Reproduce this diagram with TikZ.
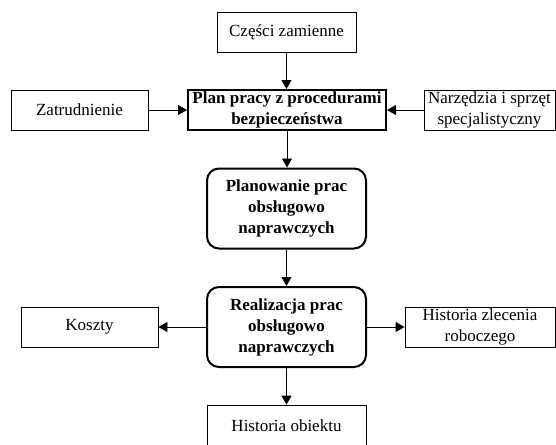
\documentclass[tikz,border=0pt]{standalone}
\usepackage{fontspec}
\setmainfont{Liberation Serif}
\usetikzlibrary{arrows.meta}
\begin{document}
\begin{tikzpicture}[x=1pt,y=-1pt,
  every node/.style={font=\fontsize{17}{20.5}\selectfont, align=center, inner sep=0pt},
  plainbox/.style={draw, line width=0.9pt, minimum height=40pt},
  boldbox/.style={draw, line width=2pt, minimum height=40pt, font=\fontsize{17}{21.5}\selectfont\bfseries},
  roundbox/.style={draw, line width=2pt, rounded corners=12pt, minimum width=159pt, minimum height=80pt, font=\fontsize{17}{21}\selectfont\bfseries},
  conn/.style={line width=0.9pt, -{Triangle[length=9pt,width=10pt]}}
]
\useasboundingbox (0,0) rectangle (556,444);
\node[plainbox, minimum width=139pt] (czesci) at (286.5,32.5) {Części zamienne};
\node[plainbox, minimum width=137pt] (zatr) at (79.5,110) {Zatrudnienie};
\node[boldbox, minimum width=198pt] (plan) at (287,110) {Plan pracy z procedurami\\bezpieczeństwa};
\node[plainbox, minimum width=131pt] (narz) at (489.5,110) {Narzędzia i sprzęt\\specjalistyczny};
\node[roundbox] (planow) at (286.5,208.5) {Planowanie prac\\obsługowo\\naprawczych};
\node[roundbox] (real) at (286.5,327) {Realizacja prac\\obsługowo\\naprawczych};
\node[plainbox, minimum width=137pt] (koszty) at (89.5,327) {Koszty};
\node[plainbox, minimum width=150pt] (hzlec) at (480,327) {Historia zlecenia\\roboczego};
\node[plainbox, minimum width=159pt, minimum height=41pt] (hobj) at (286.5,425.5) {Historia obiektu};

\draw[conn] (czesci.south) -- (czesci.south |- plan.north);
\draw[conn] (zatr.east) -- (plan.west);
\draw[conn] (narz.west) -- (plan.east);
\draw[conn] (plan.south) -- (plan.south |- planow.north);
\draw[conn] (planow.south) -- (real.north);
\draw[conn] (real.west) -- (koszty.east);
\draw[conn] (real.east) -- (hzlec.west);
\draw[conn] (real.south) -- (hobj.north);
\end{tikzpicture}
\end{document}
